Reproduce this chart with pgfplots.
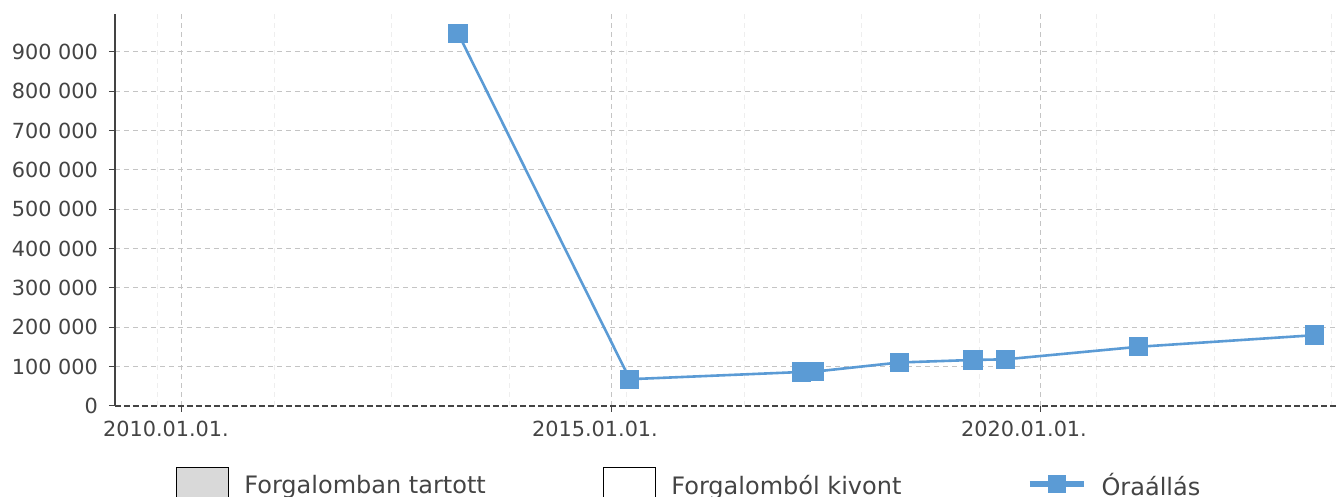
\documentclass[border=0pt]{standalone}
\usepackage{pgfplots}
\pgfplotsset{compat=1.18}
\usepackage{fontspec}
\setmainfont{DejaVu Sans}
\definecolor{serblue}{HTML}{5B9BD5}
\definecolor{txt}{HTML}{444444}
\definecolor{gridc}{HTML}{C4C4C4}
\definecolor{minorc}{HTML}{EEEEEE}
\definecolor{boxgray}{HTML}{D9D9D9}
\pgfplotsset{wideline/.style={legend image code/.code={\draw[mark repeat=2,mark phase=2,##1, line width=2.6pt, mark size=4.1pt] plot coordinates {(0pt,0pt) (13.5pt,0pt) (27pt,0pt)};}}}
\begin{document}
\begin{tikzpicture}
\begin{axis}[
  scale only axis,
  width=611.5pt, height=196pt,
  xmin=2009.2191, xmax=2023.4732,
  ymin=0, ymax=996600,
  axis lines*=left,
  axis line style={-},
  y axis line style={draw=txt, line width=0.6pt},
  x axis line style={draw=txt, line width=0.6pt, dash pattern=on 3pt off 1.5pt},
  xtick={2010,2015,2020},
  xticklabels={2010.01.01.,2015.01.01.,2020.01.01.},
  minor xtick={2009.709,2011.078,2012.447,2013.816,2015.184,2016.553,2017.922,2019.291,2020.660,2022.029,2023.398},
  ytick={0,100000,200000,300000,400000,500000,600000,700000,800000,900000},
  yticklabels={0,100 000,200 000,300 000,400 000,500 000,600 000,700 000,800 000,900 000},
  scaled y ticks=false,
  tick align=outside,
  major tick length=3pt,
  minor tick length=0pt,
  tick style={draw=txt, line width=0.5pt},
  xmajorgrids, ymajorgrids, xminorgrids,
  major grid style={draw=gridc, line width=0.5pt, dash pattern=on 2.5pt off 2pt},
  minor grid style={draw=minorc, line width=0.5pt, dash pattern=on 2.5pt off 2pt},
  ticklabel style={font=\fontsize{10.4pt}{12pt}\selectfont, text=txt},
  xticklabel style={xshift=-8pt, yshift=-1pt},
  yticklabel style={xshift=-2pt},
  legend columns=3,
  legend style={at={(0,0)}, anchor=west, xshift=30.5pt, yshift=-39pt,
    draw=none, fill=none, inner sep=0pt, column sep=0pt,
    font=\fontsize{12pt}{14pt}\selectfont, text=txt,
    nodes={inner sep=0pt},
    /tikz/every odd column/.append style={column sep=7.5pt}},
  clip=false,
]
\addlegendimage{legend image code/.code={\draw[draw=black, line width=0.5pt, fill=boxgray] (0pt,-8pt) rectangle (26pt,8pt);}}
\addlegendentry{\raisebox{-2.2pt}{\makebox[179.5pt][l]{Forgalomban tartott}}}
\addlegendimage{legend image code/.code={\draw[draw=black, line width=0.5pt, fill=white] (0pt,-8pt) rectangle (26pt,8pt);}}
\addlegendentry{\raisebox{-2.2pt}{\makebox[178pt][l]{Forgalomból kivont}}}
\addplot[color=serblue, line width=1.3pt, mark=square*, mark size=4.6pt,
  mark options={solid, fill=serblue, draw=serblue, line width=0pt}, wideline]
coordinates {
(2013.217, 947600)
(2015.219, 68100)
(2017.223, 86500)
(2017.369, 87300)
(2018.359, 110600)
(2019.217, 117000)
(2019.601, 118700)
(2021.146, 150500)
(2023.196, 180000)
};
\addlegendentry{\raisebox{-2.2pt}{Óraállás}}
\end{axis}
\pgfresetboundingbox
\path (-57.5pt,-45.5pt) rectangle (612.5pt,203pt);
\end{tikzpicture}
\end{document}
